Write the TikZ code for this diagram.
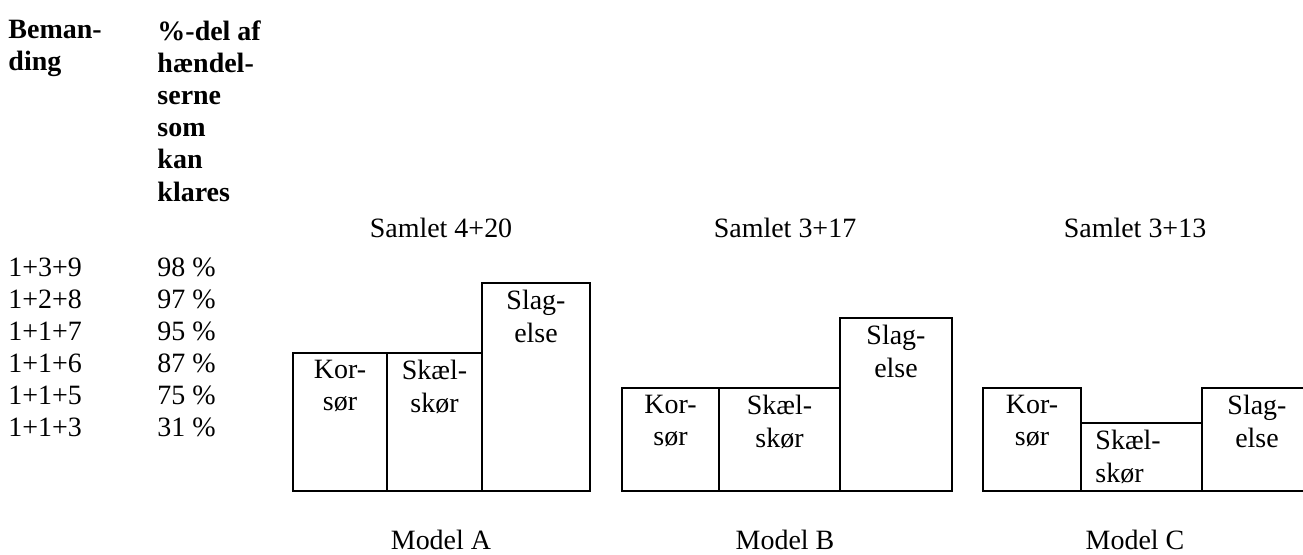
\documentclass[tikz,border=0pt]{standalone}
\usepackage{fontspec}
\setmainfont{Liberation Serif}

\begin{document}
\begin{tikzpicture}[x=0.429pt,y=-0.429pt,
 every node/.style={inner sep=0pt,font=\fontsize{12pt}{13.8pt}\selectfont},
 felt/.style={draw,line width=0.9pt},
 navn/.style={align=center,anchor=north},
 hoved/.style={align=left,anchor=north west,font=\fontsize{12pt}{13.8pt}\selectfont\bfseries}]
 \useasboundingbox (0,0) rectangle (1303,554);
 \node[hoved] (beman) at (8,20) {Beman-\\ding}; %kolonne 1
 \node[hoved] (andel) at (157,20) {\%-del af\\hændel-\\serne\\som\\kan\\klares}; %kolonne 2
 \foreach \b/\p [count=\i] in {1+3+9/98,1+2+8/97,1+1+7/95,1+1+6/87,1+1+5/75,1+1+3/31}{
  \node[anchor=base west] (b\i) at (8,{244+32*\i}) {\b};
  \node[anchor=base west] (p\i) at (157,{244+32*\i}) {\p\ \%};
 }
 % Model A
 \node[anchor=base] (samA) at (441,237) {Samlet 4+20};
 \draw[felt] (293,353) rectangle (387,491);
 \draw[felt] (387,353) rectangle (482,491);
 \draw[felt] (482,283) rectangle (590,491);
 \node[navn] (korA) at (340,360) {Kor-\\sør};
 \node[navn] (skaA) at (434.5,360) {Skæl-\\skør};
 \node[navn] (slaA) at (536,290) {Slag-\\else};
 \node[anchor=base] (modA) at (441,549) {Model A};
 % Model B
 \node[anchor=base] (samB) at (785,237) {Samlet 3+17};
 \draw[felt] (622,388) rectangle (719,491);
 \draw[felt] (719,388) rectangle (840,491);
 \draw[felt] (840,318) rectangle (952,491);
 \node[navn] (korB) at (670.5,395) {Kor-\\sør};
 \node[navn] (skaB) at (779.5,395) {Skæl-\\skør};
 \node[navn] (slaB) at (896,325) {Slag-\\else};
 \node[anchor=base] (modB) at (785,549) {Model B};
 % Model C
 \node[anchor=base] (samC) at (1135,237) {Samlet 3+13};
 \draw[felt] (983,388) rectangle (1081,491);
 \draw[felt] (1081,423) rectangle (1202,491);
 \draw[felt] (1202,388) rectangle (1312,491); %hoejre kant uden for billedet
 \node[navn] (korC) at (1032,395) {Kor-\\sør};
 \node[align=left,anchor=north west] (skaC) at (1095,430) {Skæl-\\skør};
 \node[navn] (slaC) at (1257,395) {Slag-\\else};
 \node[anchor=base] (modC) at (1135,549) {Model C};
\end{tikzpicture}
\end{document}
